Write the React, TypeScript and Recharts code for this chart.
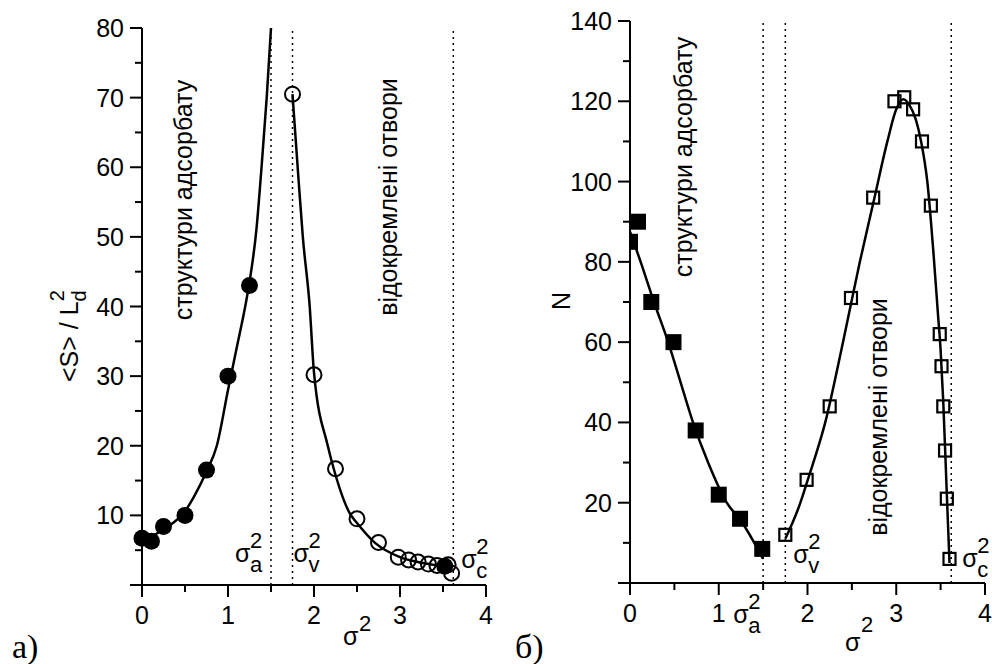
import React from 'react';
import { ComposedChart, XAxis, YAxis, Line, Scatter, ReferenceLine } from 'recharts';

// ---------- data: panel a) ----------
const leftFilledX = [0, 0.11, 0.25, 0.5, 0.75, 1.0, 1.25, 3.52];
const leftFilledY = [6.7, 6.3, 8.4, 10.0, 16.5, 30.0, 43.0, 2.7];
const leftOpenX = [1.75, 2.0, 2.25, 2.5, 2.75, 2.98, 3.1, 3.21, 3.33, 3.43, 3.56, 3.6];
const leftOpenY = [70.5, 30.2, 16.7, 9.5, 6.1, 4.0, 3.6, 3.3, 3.0, 2.8, 2.9, 1.7];
const leftRiseCurveX = [0, 0.1, 0.25, 0.5, 0.6, 0.75, 0.87, 1.0, 1.1, 1.2, 1.25, 1.33, 1.39, 1.45, 1.5];
const leftRiseCurveY = [6.4, 6.9, 8.0, 10.6, 12.6, 16.3, 20, 28, 34, 40, 43.5, 51, 60, 70, 80];
const leftFallCurveX = [1.75, 1.81, 1.87, 1.95, 2.0, 2.16, 2.25, 2.42, 2.5, 2.71, 3.0, 3.25, 3.5, 3.6];
const leftFallCurveY = [70.5, 60, 50, 40, 30.5, 20, 15.8, 10.2, 8.9, 6.05, 4.0, 3.2, 2.7, 2.5];

// ---------- data: panel б) ----------
const rightFilledX = [0, 0.09, 0.24, 0.49, 0.74, 1.0, 1.24, 1.49];
const rightFilledY = [85, 90, 70, 60, 38, 22, 16, 8.5];
const rightOpenX = [1.75, 1.99, 2.25, 2.49, 2.74, 2.98, 3.09, 3.19, 3.29, 3.39, 3.49, 3.51, 3.53, 3.55, 3.57, 3.6];
const rightOpenY = [12, 25.7, 44, 71, 96, 120, 121, 118, 110, 94, 62, 54, 44, 33, 21, 6];
const rightFallCurveX = [0, 0.12, 0.27, 0.43, 0.57, 0.71, 0.88, 1.09, 1.25, 1.5];
const rightFallCurveY = [87.5, 80, 70, 60, 50, 40, 30, 20, 15.5, 6];
const rightPeakCurveX = [1.75, 1.92, 2.0, 2.2, 2.4, 2.59, 2.75, 2.9, 3.0, 3.08, 3.15, 3.22, 3.28, 3.35, 3.42, 3.47, 3.5, 3.53, 3.57, 3.6];
const rightPeakCurveY = [11, 20, 25.5, 40, 60, 80, 95.5, 110, 118, 120.5, 119, 115.5, 110, 100, 82, 67, 58, 45, 22, 5];

// ---------- axes ----------
const xTicks = [0, 0.5, 1, 1.5, 2, 2.5, 3, 3.5, 4];
const leftYTicks = [0, 5, 10, 15, 20, 25, 30, 35, 40, 45, 50, 55, 60, 65, 70, 75, 80];
const rightYTicks = [0, 10, 20, 30, 40, 50, 60, 70, 80, 90, 100, 110, 120, 130, 140];
const sigmaA = 1.5;
const sigmaV = 1.75;
const sigmaC = 3.62;

const zip = (xs: number[], ys: number[]) => xs.map((x, i) => ({ x, y: ys[i] }));

const FONT = "'Liberation Sans', Arial, sans-serif";

const XTick = (props: any) => {
  const { x, y, payload } = props;
  const v = payload.value;
  const major = Number.isInteger(v);
  return (
    <g>
      <line x1={x} x2={x} y1={y} y2={y + (major ? 12 : 7)} stroke="#000" strokeWidth={2} />
      {major && (
        <text x={x} y={y + 39} textAnchor="middle" fontSize={25} fontFamily={FONT} fill="#000">
          {v}
        </text>
      )}
    </g>
  );
};

const makeYTick = (step: number) => (props: any) => {
  const { x, y, payload } = props;
  const v = payload.value;
  const major = v % step === 0;
  return (
    <g>
      <line x1={x} x2={x - (major ? 12 : 7)} y1={y} y2={y} stroke="#000" strokeWidth={2} />
      {major && v !== 0 && (
        <text x={x - 18} y={y + 9} textAnchor="end" fontSize={25} fontFamily={FONT} fill="#000">
          {v}
        </text>
      )}
    </g>
  );
};

const sigmaLabel = (sub: string, dx: number, dyFromBottom: number) => (props: any) => {
  const vb = props.viewBox || {};
  const x = vb.x + dx;
  const y = vb.y + vb.height + dyFromBottom;
  return (
    <g fontFamily={FONT} fill="#000">
      <text x={x} y={y} fontSize={25}>σ</text>
      <text x={x + 15} y={y + 10} fontSize={22}>{sub}</text>
      <text x={x + 15} y={y - 14} fontSize={22}>2</text>
    </g>
  );
};

const FilledCircle = (p: any) => <circle cx={p.cx} cy={p.cy} r={8.5} fill="#000" />;
const OpenCircle = (p: any) => <circle cx={p.cx} cy={p.cy} r={7.5} fill="none" stroke="#000" strokeWidth={2} />;
const FilledSquare = (p: any) => <rect x={p.cx - 8} y={p.cy - 8} width={16} height={16} fill="#000" />;
const OpenSquare = (p: any) => (
  <rect x={p.cx - 6} y={p.cy - 6} width={12} height={12} fill="none" stroke="#000" strokeWidth={2.2} />
);

const dotted = { stroke: '#000', strokeWidth: 1.5, strokeDasharray: '2 4' };
const curve = { stroke: '#000', strokeWidth: 2.5, dot: false, isAnimationActive: false, type: 'monotone' as const };

function LeftPanel() {
  return (
    <ComposedChart width={500} height={664} margin={{ top: 28, right: 14, bottom: 49, left: 82 }}>
      <XAxis
        type="number"
        dataKey="x"
        domain={[0, 4]}
        ticks={xTicks}
        interval={0}
        tickSize={0}
        tickMargin={0}
        tickLine={false}
        axisLine={{ stroke: '#000', strokeWidth: 2 }}
        tick={XTick}
        height={30}
      />
      <YAxis
        type="number"
        dataKey="y"
        domain={[0, 80]}
        ticks={leftYTicks}
        interval={0}
        tickSize={0}
        tickMargin={0}
        tickLine={false}
        axisLine={{ stroke: '#000', strokeWidth: 2 }}
        tick={makeYTick(10)}
        width={60}
      />
      <ReferenceLine x={sigmaA} {...dotted} label={sigmaLabel('a', -36, -23)} />
      <ReferenceLine x={sigmaV} {...dotted} label={sigmaLabel('v', 1, -23)} />
      <ReferenceLine x={sigmaC} {...dotted} label={sigmaLabel('c', 8, -17)} />
      <Line data={zip(leftRiseCurveX, leftRiseCurveY)} dataKey="y" {...curve} />
      <Line data={zip(leftFallCurveX, leftFallCurveY)} dataKey="y" {...curve} />
      <Scatter data={zip(leftFilledX, leftFilledY)} dataKey="y" shape={FilledCircle} isAnimationActive={false} />
      <Scatter data={zip(leftOpenX, leftOpenY)} dataKey="y" shape={OpenCircle} isAnimationActive={false} />
    </ComposedChart>
  );
}

function RightPanel() {
  return (
    <ComposedChart width={492} height={664} margin={{ top: 21, right: 7, bottom: 51, left: 70 }}>
      <XAxis
        type="number"
        dataKey="x"
        domain={[0, 4]}
        ticks={xTicks}
        interval={0}
        tickSize={0}
        tickMargin={0}
        tickLine={false}
        axisLine={{ stroke: '#000', strokeWidth: 2 }}
        tick={XTick}
        height={30}
        allowDataOverflow
      />
      <YAxis
        type="number"
        dataKey="y"
        domain={[0, 140]}
        ticks={rightYTicks}
        interval={0}
        tickSize={0}
        tickMargin={0}
        tickLine={false}
        axisLine={{ stroke: '#000', strokeWidth: 2 }}
        tick={makeYTick(20)}
        width={60}
      />
      <ReferenceLine x={sigmaA} {...dotted} label={sigmaLabel('a', -30, 40)} />
      <ReferenceLine x={sigmaV} {...dotted} label={sigmaLabel('v', 8, -20)} />
      <ReferenceLine x={sigmaC} {...dotted} label={sigmaLabel('c', 11, -16)} />
      <Line data={zip(rightFallCurveX, rightFallCurveY)} dataKey="y" {...curve} />
      <Line data={zip(rightPeakCurveX, rightPeakCurveY)} dataKey="y" {...curve} />
      <Scatter data={zip(rightFilledX, rightFilledY)} dataKey="y" shape={FilledSquare} isAnimationActive={false} />
      <Scatter data={zip(rightOpenX, rightOpenY)} dataKey="y" shape={OpenSquare} isAnimationActive={false} />
    </ComposedChart>
  );
}

function Overlay() {
  const rot = (x: number, y: number) => `translate(${x},${y}) rotate(-90)`;
  return (
    <svg
      width={992}
      height={664}
      style={{ position: 'absolute', left: 0, top: 0, pointerEvents: 'none' }}
      fontFamily={FONT}
      fill="#000"
    >
      <text transform={rot(192, 200)} textAnchor="middle" fontSize={25}>структури адсорбату</text>
      <text transform={rot(397, 197)} textAnchor="middle" fontSize={25}>відокремлені отвори</text>
      <text transform={rot(692, 157)} textAnchor="middle" fontSize={25}>структури адсорбату</text>
      <text transform={rot(887, 417)} textAnchor="middle" fontSize={25}>відокремлені отвори</text>

      <text transform={rot(78, 382)} fontSize={25}>
        <tspan>{'<S> / L'}</tspan>
        <tspan dy={8} fontSize={20}>d</tspan>
        <tspan dx={-11} dy={-22} fontSize={20}>2</tspan>
      </text>
      <text transform={rot(570, 301)} textAnchor="middle" fontSize={25}>N</text>

      <text x={343} y={645} fontSize={25}>σ</text>
      <text x={359} y={631} fontSize={22}>2</text>
      <text x={845} y={651} fontSize={25}>σ</text>
      <text x={861} y={632} fontSize={22}>2</text>

      <text x={12} y={658} fontSize={34} fontFamily="'Liberation Serif', 'DejaVu Serif', serif">а)</text>
      <text x={515} y={658} fontSize={34} fontFamily="'Liberation Serif', 'DejaVu Serif', serif">б)</text>
    </svg>
  );
}

export default function App() {
  return (
    <div style={{ position: 'absolute', left: 0, top: 0, width: 992, height: 664, background: '#fff' }}>
      <div style={{ position: 'absolute', left: 0, top: 0 }}>
        <LeftPanel />
      </div>
      <div style={{ position: 'absolute', left: 500, top: 0 }}>
        <RightPanel />
      </div>
      <Overlay />
    </div>
  );
}
